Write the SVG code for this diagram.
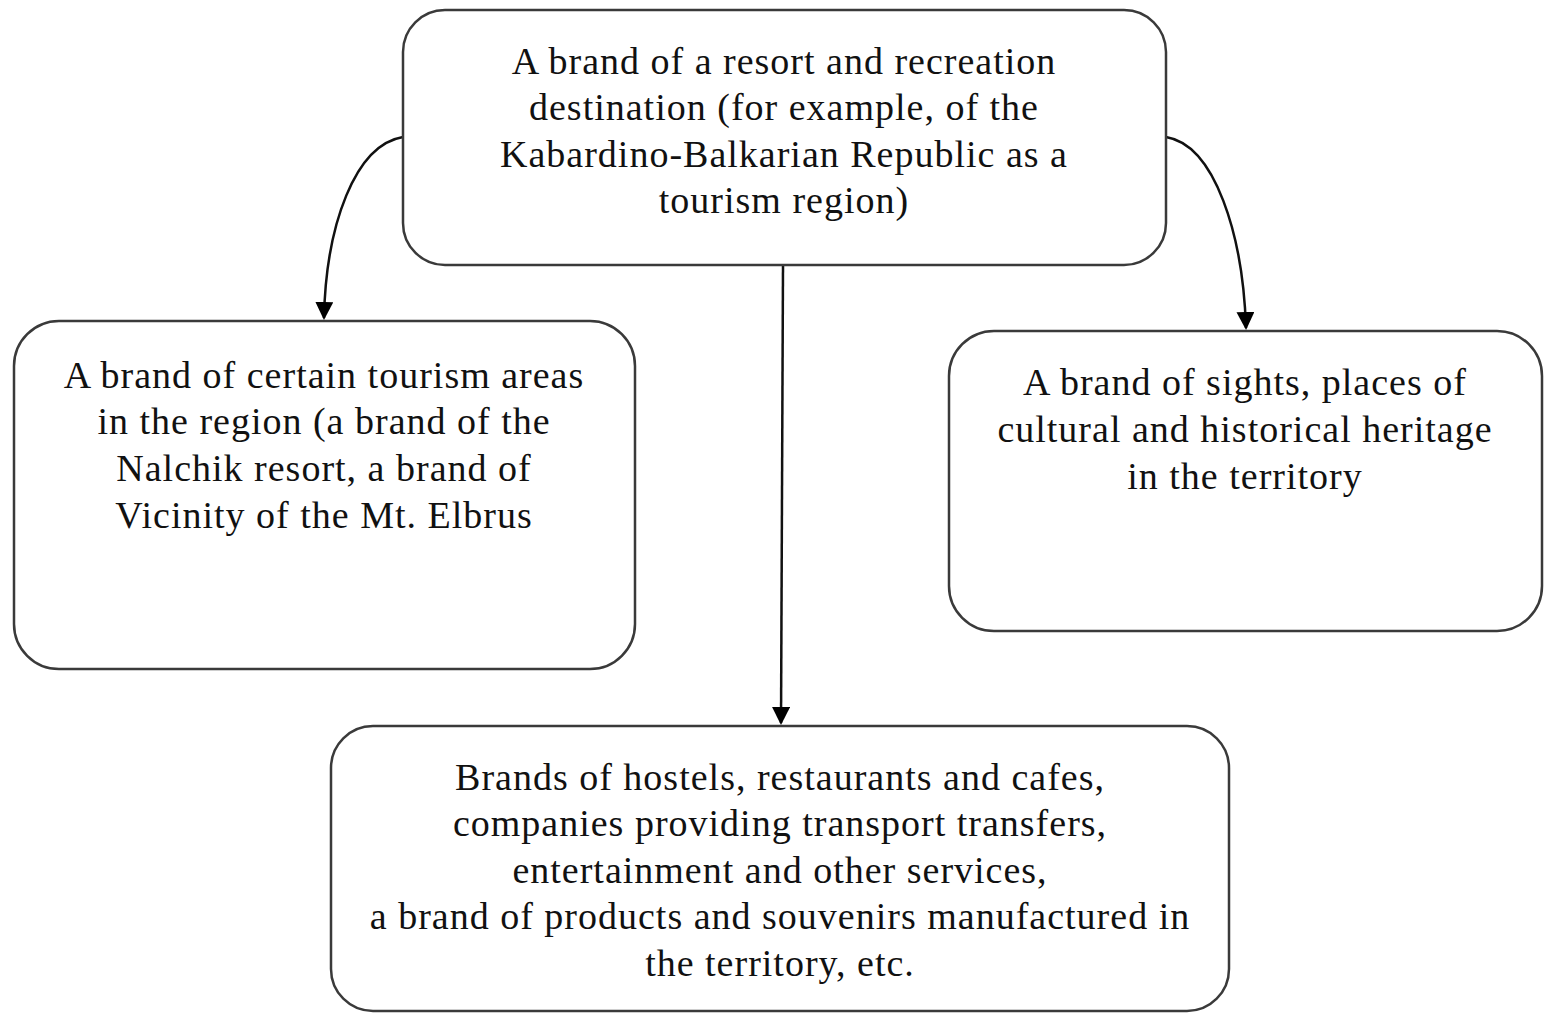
<svg xmlns="http://www.w3.org/2000/svg" width="1544" height="1013" viewBox="0 0 1544 1013">
<style>
.box{fill:#fff;stroke:#3a3a3a;stroke-width:2.5}
.t{font-family:"Liberation Serif","Times New Roman",serif;font-size:38px;letter-spacing:1px;fill:#111;text-anchor:middle}
.c{fill:none;stroke:#111;stroke-width:2.5}
</style>
<defs>
<marker id="ah" markerWidth="18" markerHeight="18" refX="16" refY="9" orient="auto" markerUnits="userSpaceOnUse" viewBox="0 0 18 18">
<path d="M0,0 L18,9 L0,18 Z" fill="#000"/>
</marker>
</defs>
<rect width="1544" height="1013" fill="#fff"/>
<g id="connectors">
<path class="c" d="M403,137 C355,145 326,225 324,318" marker-end="url(#ah)"/>
<path class="c" d="M1166,137 C1215,145 1243,235 1246,328" marker-end="url(#ah)"/>
<path class="c" d="M783,265 L781,723" marker-end="url(#ah)"/>
</g>
<g id="top">
<rect class="box" x="403" y="10" width="763" height="255" rx="42"/>
<text class="t" x="784" y="74">A brand of a resort and recreation</text>
<text class="t" x="784" y="120">destination (for example, of the</text>
<text class="t" x="784" y="167">Kabardino-Balkarian Republic as a</text>
<text class="t" x="784" y="213">tourism region)</text>
</g>
<g id="left">
<rect class="box" x="14" y="321" width="621" height="348" rx="45"/>
<text class="t" x="324" y="388">A brand of certain tourism areas</text>
<text class="t" x="324" y="434">in the region (a brand of the</text>
<text class="t" x="324" y="481">Nalchik resort, a brand of</text>
<text class="t" x="324" y="528">Vicinity of the Mt. Elbrus</text>
</g>
<g id="right">
<rect class="box" x="949" y="331" width="593" height="300" rx="45"/>
<text class="t" x="1245" y="395">A brand of sights, places of</text>
<text class="t" x="1245" y="442">cultural and historical heritage</text>
<text class="t" x="1245" y="489">in the territory</text>
</g>
<g id="bottom">
<rect class="box" x="331" y="726" width="898" height="285" rx="42"/>
<text class="t" x="780" y="790">Brands of hostels, restaurants and cafes,</text>
<text class="t" x="780" y="836">companies providing transport transfers,</text>
<text class="t" x="780" y="883">entertainment and other services,</text>
<text class="t" x="780" y="929">a brand of products and souvenirs manufactured in</text>
<text class="t" x="780" y="976">the territory, etc.</text>
</g>
</svg>
